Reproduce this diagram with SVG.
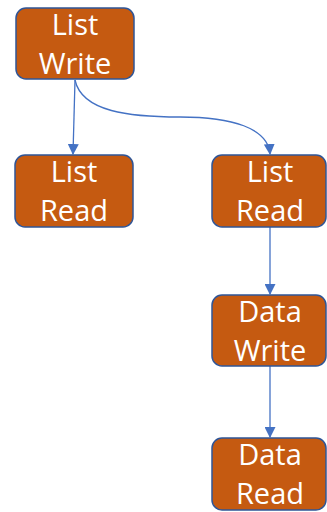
<svg xmlns="http://www.w3.org/2000/svg" width="327" height="512" viewBox="0 0 327 512">
<style>
.box{fill:#C55A11;stroke:#2F5597;stroke-width:1.5}
.t{font-family:"Open Sans","Noto Sans",sans-serif;font-size:29px;fill:#fff;text-anchor:middle}
.c{fill:none;stroke:#4472C4;stroke-width:1.3}
</style>
<defs>
<marker id="a" markerWidth="11" markerHeight="11" refX="10" refY="5.5" orient="auto" markerUnits="userSpaceOnUse">
<path d="M0,0 L11,5.5 L0,11 Z" fill="#4472C4"/>
</marker>
</defs>
<g id="connectors">
<path class="c" d="M75,80 L73,154" marker-end="url(#a)"/>
<path class="c" d="M75,80 C82,112 130,117 180,117 C232,117 268,128 270,154" marker-end="url(#a)"/>
<path class="c" d="M270,227 L270,294" marker-end="url(#a)"/>
<path class="c" d="M270,366 L270,437" marker-end="url(#a)"/>
</g>
<g id="list-write">
<rect class="box" x="16" y="8" width="118" height="71" rx="10"/>
<text class="t" x="75" y="35">List</text>
<text class="t" x="75" y="74">Write</text>
</g>
<g id="list-read-left">
<rect class="box" x="15" y="155" width="118" height="72" rx="10"/>
<text class="t" x="74" y="182">List</text>
<text class="t" x="74" y="221">Read</text>
</g>
<g id="list-read-right">
<rect class="box" x="212" y="155" width="114" height="72" rx="10"/>
<text class="t" x="270" y="182">List</text>
<text class="t" x="270" y="221">Read</text>
</g>
<g id="data-write">
<rect class="box" x="212" y="295" width="114" height="71" rx="10"/>
<text class="t" x="270" y="322">Data</text>
<text class="t" x="270" y="361">Write</text>
</g>
<g id="data-read">
<rect class="box" x="212" y="438" width="114" height="72" rx="10"/>
<text class="t" x="270" y="465">Data</text>
<text class="t" x="270" y="504">Read</text>
</g>
</svg>
